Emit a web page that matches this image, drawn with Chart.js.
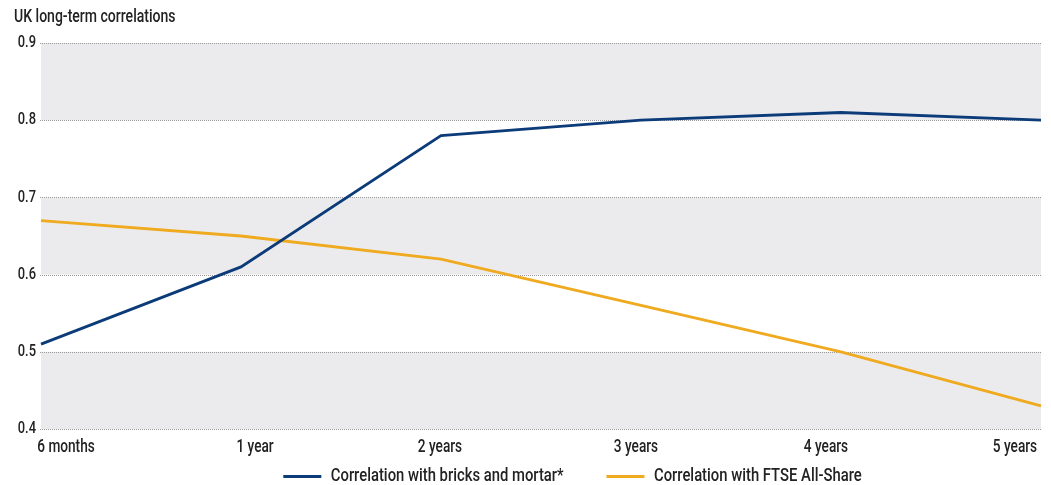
<!DOCTYPE html>
<html>
<head>
<meta charset="utf-8">
<script src="https://cdn.jsdelivr.net/npm/chart.js@4.4.1/dist/chart.umd.min.js"></script>
<style>
  html, body { margin: 0; padding: 0; background: #ffffff; }
  #wrap { width: 1051px; height: 485px; position: relative; }
</style>
</head>
<body>
<div id="wrap"><canvas id="chart"></canvas></div>
<script>
// Holding periods on the x axis
const periods = ['6 months', '1 year', '2 years', '3 years', '4 years', '5 years'];
// Correlation series
const bricksAndMortar = [0.51, 0.61, 0.78, 0.80, 0.81, 0.80];
const ftseAllShare = [0.67, 0.65, 0.62, 0.56, 0.50, 0.43];
// Series names
const seriesNames = ['Correlation with bricks and mortar*', 'Correlation with FTSE All-Share'];
// Y axis range / tick step
const yMin = 0.4;
const yMax = 0.9;
const yStep = 0.1;

const FONT = "Roboto, 'DejaVu Sans', sans-serif";
const TEXT = '#222222';
const NAVY = '#0c3b79';
const GOLD = '#efaa1f';
const BAND = '#ebebed';

// horizontal squeeze applied to all text (condensed look)
const TEXT_SQUEEZE = 0.78;

// horizontal shift of each x tick label (spread from first to last)
const xLabelShift = [25, 14, -1, -5, -15, -26];
// legend row sits right of centre
const LEGEND_SHIFT = 45;

const canvas = document.getElementById('chart');
const ctx2d = canvas.getContext('2d');

// narrow every piece of text drawn on this canvas
(function condense(ctx, sx) {
  const fill = ctx.fillText.bind(ctx);
  const measure = ctx.measureText.bind(ctx);
  ctx.fillText = function (t, x, y, maxW) {
    ctx.save();
    ctx.translate(x, y);
    ctx.scale(sx, 1);
    if (maxW !== undefined) fill(t, 0, 0, maxW / sx); else fill(t, 0, 0);
    ctx.restore();
  };
  ctx.measureText = function (t) {
    const m = measure(t);
    return {
      width: m.width * sx,
      actualBoundingBoxAscent: m.actualBoundingBoxAscent,
      actualBoundingBoxDescent: m.actualBoundingBoxDescent,
      actualBoundingBoxLeft: m.actualBoundingBoxLeft * sx,
      actualBoundingBoxRight: m.actualBoundingBoxRight * sx
    };
  };
})(ctx2d, TEXT_SQUEEZE);

// alternating grey bands with dotted rules behind the lines
const bandPlugin = {
  id: 'bands',
  beforeDatasetsDraw(chart) {
    const { ctx, chartArea, scales } = chart;
    const y = scales.y;
    ctx.save();
    ctx.fillStyle = BAND;
    for (let v = yMin, i = 0; v < yMax - 1e-9; v += yStep, i++) {
      if (i % 2 === 0) {
        const top = y.getPixelForValue(v + yStep);
        const bot = y.getPixelForValue(v);
        ctx.fillRect(chartArea.left, top, chartArea.right - chartArea.left, bot - top);
      }
    }
    ctx.strokeStyle = '#9a9a9a';
    ctx.lineWidth = 1;
    ctx.setLineDash([1, 1]);
    y.ticks.forEach(t => {
      const py = Math.round(y.getPixelForValue(t.value)) + 0.5;
      ctx.beginPath();
      ctx.moveTo(chartArea.left - 1, py);
      ctx.lineTo(chartArea.right, py);
      ctx.stroke();
    });
    ctx.restore();
  }
};

// nudge the legend box sideways once the layout is done
const legendShift = {
  id: 'legendShift',
  afterLayout(chart) {
    if (chart.legend) {
      chart.legend.left += LEGEND_SHIFT;
      chart.legend.right += LEGEND_SHIFT;
    }
  }
};

new Chart(canvas, {
  type: 'line',
  data: {
    labels: periods,
    datasets: [
      {
        label: seriesNames[0],
        data: bricksAndMortar,
        borderColor: NAVY,
        backgroundColor: NAVY,
        borderWidth: 2.8,
        pointRadius: 0,
        tension: 0
      },
      {
        label: seriesNames[1],
        data: ftseAllShare,
        borderColor: GOLD,
        backgroundColor: GOLD,
        borderWidth: 2.8,
        pointRadius: 0,
        tension: 0
      }
    ]
  },
  plugins: [bandPlugin, legendShift],
  options: {
    responsive: true,
    maintainAspectRatio: false,
    animation: false,
    layout: { padding: { left: 14, right: 10, top: 0, bottom: -11 } },
    plugins: {
      title: {
        display: true,
        text: 'UK long-term correlations',
        align: 'start',
        color: TEXT,
        font: { family: FONT, size: 18, weight: '500' },
        padding: { top: 7, bottom: 14.4 }
      },
      legend: {
        position: 'bottom',
        labels: {
          color: TEXT,
          font: { family: FONT, size: 19, weight: '500' },
          boxWidth: 38,
          boxHeight: 3,
          padding: 6,
          generateLabels(chart) {
            return chart.data.datasets.map((ds, i) => ({
              // trailing spaces open the gap before the next entry
              text: i === 0 ? ds.label + '\u00a0'.repeat(10) : ds.label,
              fillStyle: ds.borderColor,
              strokeStyle: ds.borderColor,
              lineWidth: 0,
              datasetIndex: i,
              fontColor: TEXT
            }));
          }
        }
      },
      tooltip: { enabled: false }
    },
    scales: {
      x: {
        offset: false,
        grid: { display: false, drawTicks: false },
        border: { display: false },
        ticks: {
          color: TEXT,
          font: { family: FONT, size: 17.5, weight: '500' },
          padding: 8,
          maxRotation: 0,
          autoSkip: false
        },
        afterFit(scale) {
          scale.paddingLeft = 0;
          scale.paddingRight = 0;
          scale.height = 32;
        },
        afterUpdate(scale) {
          const orig = scale._computeLabelItems.bind(scale);
          scale._computeLabelItems = function (area) {
            const items = orig(area);
            items.forEach((it, i) => {
              it.options.translation[0] += xLabelShift[i] || 0;
            });
            return items;
          };
        }
      },
      y: {
        min: yMin,
        max: yMax,
        grid: { display: false, drawTicks: false },
        border: { display: false },
        ticks: {
          stepSize: yStep,
          color: TEXT,
          font: { family: FONT, size: 16.5, weight: '500' },
          padding: 5,
          callback: v => v.toFixed(1)
        },
        afterFit(scale) {
          scale.width = 27;
          scale.paddingTop = 0;
          scale.paddingBottom = 0;
        }
      }
    }
  }
});
</script>
</body>
</html>
